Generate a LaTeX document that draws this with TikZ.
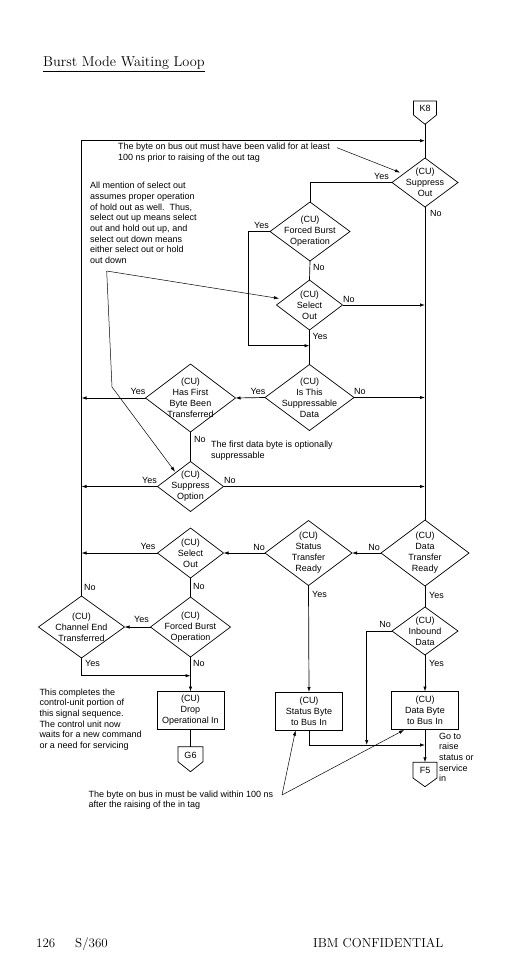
\documentclass[tikz,border=0pt]{standalone}
\usepackage{fontspec}
\setsansfont{Liberation Sans}
\usetikzlibrary{shapes.geometric,arrows.meta}
\newcommand\dia[5]{%
  \node[dec,minimum width=#3,minimum height=#4] (#1) at (#2) {};
  \node[dt] (#1t) at (#2) {#5};}
\begin{document}
\begin{tikzpicture}[x=1pt,y=-1pt,
  every node/.style={font=\sffamily\fontsize{9}{10.7}\selectfont},
  ln/.style={line width=0.7pt},
  arr/.style={ln,-{Latex[length=5pt,width=3.4pt]}},
  dec/.style={diamond,draw,ln,inner sep=0,outer sep=0},
  box/.style={rectangle,draw,ln,inner sep=0,outer sep=0,align=center,
    font=\sffamily\fontsize{9}{11}\selectfont},
  dt/.style={align=center,inner sep=0,font=\sffamily\fontsize{9}{11}\selectfont},
  lab/.style={inner sep=0},
  note/.style={align=left,inner sep=0,anchor=north west},
  foot/.style={inner sep=0,anchor=base west,font=\rmfamily\fontsize{13}{15}\selectfont}]
\useasboundingbox (0,0) rectangle (526,972);

% title
\node[anchor=base west,inner sep=0,font=\rmfamily\fontsize{14.3}{16}\selectfont] (title) at (43,66.7) {Burst Mode Waiting Loop};
\draw[line width=0.8pt] (43,71.7) -- (205,71.7);

% connectors (off-page)
\draw[ln] (413.5,101) -- (436.5,101) -- (436.5,115) -- (425,124.3) -- (413.5,115) -- cycle;
\node[inner sep=0] (k8) at (425,108.5) {K8};
\coordinate (k8p) at (425,124.3);
\draw[ln] (178,746.7) -- (203,746.7) -- (203,761.7) -- (190.5,771.7) -- (178,761.7) -- cycle;
\node[inner sep=0] (g6) at (190.5,755) {G6};
\coordinate (g6top) at (190.5,746.7);
\draw[ln] (413,762.3) -- (437,762.3) -- (437,778) -- (425,786.7) -- (413,778) -- cycle;
\node[inner sep=0] (f5) at (425,770) {F5};
\coordinate (f5top) at (425,762.3);

% decisions
\dia{so}{425,182.5}{66}{49}{(CU)\\Suppress\\Out}
\dia{fb1}{310,231.5}{80}{59}{(CU)\\Forced Burst\\Operation}
\dia{so1}{309.5,305}{66}{50}{(CU)\\Select\\Out}
\dia{its}{309.5,397.5}{89}{66}{(CU)\\Is This\\Suppressable\\Data}
\dia{hf}{190.5,398}{90}{68}{(CU)\\Has First\\Byte Been\\Transferred}
\dia{sop}{190.5,486.5}{66}{50}{(CU)\\Suppress\\Option}
\dia{dtr}{425,553}{88}{66}{(CU)\\Data\\Transfer\\Ready}
\dia{str}{308.5,553}{87}{65}{(CU)\\Status\\Transfer\\Ready}
\dia{so2}{190.5,553}{66}{50}{(CU)\\Select\\Out}
\dia{fb2}{190.5,627}{80}{60}{(CU)\\Forced Burst\\Operation}
\dia{ce}{81.5,627}{86}{62}{(CU)\\Channel End\\Transferred}
\dia{ib}{425,631}{66}{48}{(CU)\\Inbound\\Data}

% boxes
\node[box,minimum width=67,minimum height=38] (drop) at (190.5,710.5) {(CU)\\Drop\\Operational In};
\node[box,minimum width=67.5,minimum height=38] (sb) at (309,711) {(CU)\\Status Byte\\to Bus In};
\node[box,minimum width=67.5,minimum height=38] (db) at (425,710.5) {(CU)\\Data Byte\\to Bus In};

% flow lines
\coordinate (t1) at (425,140.7);
\draw[ln] (k8p) -- (so.north);
\draw[arr] (ce.north) |- (t1);
\draw[ln] (so.west) -| (fb1.north);
\draw[ln] (fb1.south) -- (so1.north);
\coordinate (j1) at (309.5,345.7);
\draw[arr] (fb1.west) -- ++(-22,0) |- (j1);
\draw[ln] (so1.south) -- (its.north);
\coordinate (j2) at (425,305);
\draw[arr] (so1.east) -- (j2);
\draw[ln] (so.south) -- (dtr.north);
\draw[arr] (its.west) -- (hf.east);
\coordinate (j3) at (425,397.5);
\draw[arr] (its.east) -- (j3);
\coordinate (j4) at (81.5,398);
\draw[arr] (hf.west) -- (j4);
\draw[ln] (hf.south) -- (sop.north);
\coordinate (j5) at (81.5,486.5);
\draw[arr] (sop.west) -- (j5);
\coordinate (j6) at (425,486.5);
\draw[arr] (sop.east) -- (j6);
\draw[arr] (dtr.west) -- (str.east);
\draw[arr] (str.west) -- (so2.east);
\coordinate (j7) at (81.5,553);
\draw[arr] (so2.west) -- (j7);
\draw[ln] (so2.south) -- (fb2.north);
\draw[arr] (fb2.west) -- (ce.east);
\coordinate (j8) at (190.5,675.7);
\draw[arr] (ce.south) |- (j8);
\draw[arr] (fb2.south) -- (drop.north);
\draw[ln] (drop.south) -- (g6top);
\draw[arr] (str.south) -- (sb.north);
\draw[ln] (dtr.south) -- (ib.north);
\coordinate (j9) at (366.7,745);
\draw[arr] (ib.west) -| (j9);
\coordinate (j10) at (425,745);
\draw[arr] (sb.south) |- (j10);
\draw[arr] (ib.south) -- (db.north);
\draw[arr] (db.south) -- (f5top);

% yes / no labels
\node[lab,anchor=east] (l1) at (389,176) {Yes};
\node[lab,anchor=west] (l2) at (430,213) {No};
\node[lab,anchor=east] (l3) at (269,225.7) {Yes};
\node[lab,anchor=west] (l4) at (313,267) {No};
\node[lab,anchor=west] (l5) at (343,299) {No};
\node[lab,anchor=west] (l6) at (312.5,336) {Yes};
\node[lab,anchor=east] (l7) at (265.5,391.7) {Yes};
\node[lab,anchor=west] (l8) at (354,391.7) {No};
\node[lab,anchor=east] (l9) at (145.5,391.7) {Yes};
\node[lab,anchor=west] (l10) at (194,439.3) {No};
\node[lab,anchor=east] (l11) at (157,480.7) {Yes};
\node[lab,anchor=west] (l12) at (224,480.7) {No};
\node[lab,anchor=east] (l13) at (380,547) {No};
\node[lab,anchor=east] (l14) at (265,547) {No};
\node[lab,anchor=east] (l15) at (155.5,546) {Yes};
\node[lab,anchor=west] (l16) at (193,586.5) {No};
\node[lab,anchor=west] (l17) at (84,587) {No};
\node[lab,anchor=east] (l18) at (149,619) {Yes};
\node[lab,anchor=west] (l19) at (85,663) {Yes};
\node[lab,anchor=west] (l20) at (193,663) {No};
\node[lab,anchor=west] (l21) at (312,594) {Yes};
\node[lab,anchor=west] (l22) at (429,595) {Yes};
\node[lab,anchor=east] (l23) at (391,624) {No};
\node[lab,anchor=west] (l24) at (429,663.3) {Yes};

% notes
\node[note] (n1) at (118,143) {The byte on bus out must have been valid for at least\\100 ns prior to raising of the out tag};
\coordinate (a1s) at (337,147.7);
\coordinate (a1e) at (400,172.5);
\draw[arr,line width=0.5pt] (a1s) -- (a1e);

\node[note] (n2) at (90,182) {All mention of select out\\assumes proper operation\\of hold out as well.\ \ Thus,\\select out up means select\\out and hold out up, and\\select out down means\\either select out or hold\\out down};
\coordinate (a2s) at (106.7,271);
\coordinate (a2e) at (279,298.5);
\coordinate (a3e) at (175,471.7);
\draw[arr,line width=0.5pt] (a2s) -- (a2e);
\draw[arr,line width=0.5pt] (a2s) -- (112,387) -- (a3e);

\node[note] (n3) at (211,441) {The first data byte is optionally\\suppressable};

\node[note] (n4) at (39.3,688.3) {This completes the\\control-unit portion of\\this signal sequence.\\The control unit now\\waits for a new command\\or a need for servicing};

\node[note] (n5) at (88.3,790.5) {The byte on bus in must be valid within 100 ns\\after the raising of the in tag};
\coordinate (a5s) at (282,795);
\coordinate (a5a) at (295.5,730.5);
\coordinate (a5b) at (404,730);
\draw[arr,line width=0.5pt] (a5s) -- (a5a);
\draw[arr,line width=0.5pt] (a5s) -- (a5b);

\node[note] (n6) at (439,732.7) {Go to\\raise\\status or\\service\\in};

% footer
\node[foot] (pg) at (36,947) {126};
\node[foot] (s360) at (75,947) {S/360};
\node[foot] (conf) at (313,947) {IBM CONFIDENTIAL};
\end{tikzpicture}
\end{document}
